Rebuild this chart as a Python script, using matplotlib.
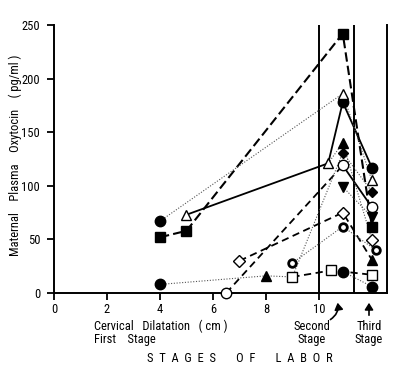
import matplotlib
matplotlib.use("Agg")
import matplotlib.pyplot as plt
from matplotlib import font_manager

names = {f.name for f in font_manager.fontManager.ttflist}
cands = [n for n in ["Liberation Sans Narrow", "DejaVu Sans Condensed", "Roboto Condensed", "Open Sans Condensed"] if n in names]
FAM = cands + ["DejaVu Sans"]
plt.rcParams["font.family"] = FAM
plt.rcParams["font.stretch"] = "condensed"

# ---- data ----
y_ticks = [0, 50, 100, 150, 200, 250]
x_ticks = [0, 2, 4, 6, 8, 10]
stage_lines = [10, 11.32]

line_sq_filled_x = [4, 5, 10.9, 12]
line_sq_filled_y = [52, 58, 242, 62]
line_solid_x = [5, 10.35, 10.9, 12]
line_solid_y = [73, 121, 178, 117]
line_dot_top_x = [4, 10.9, 12]
line_dot_top_y = [67, 186, 105]
line_dot_low_x = [4, 8, 9]
line_dot_low_y = [8, 16, 15]
line_sq_open_x = [9, 10.45, 10.9, 12]
line_sq_open_y = [15, 21, 20, 17]
line_circ_end_x = [10.9, 12]
line_circ_end_y = [20, 6]
line_ocirc_x = [6.5, 10.9]
line_ocirc_y = [0, 119]
line_ocirc2_x = [10.9, 12]
line_ocirc2_y = [119, 80]
line_diam_x = [7, 10.9, 12]
line_diam_y = [30, 75, 31]
line_star_x = [9, 10.9, 12.15]
line_star_y = [28, 62, 40]
line_fdiam_x = [9, 10.9, 12]
line_fdiam_y = [15, 131, 94.5]
line_ftri_x = [10.35, 10.9, 12]
line_ftri_y = [121, 140, 49.5]
line_tdown_x = [10.9, 12]
line_tdown_y = [99, 71]

filled_circle_x = [4, 4, 10.9, 10.9, 12, 12]
filled_circle_y = [67, 8, 178, 20, 117, 6]
filled_square_x = [4, 5, 10.9, 12]
filled_square_y = [52, 58, 242, 62]
open_tri_x = [5, 10.35, 10.9, 12]
open_tri_y = [73, 121, 186, 105]
filled_tri_x = [8, 10.9, 12]
filled_tri_y = [16, 140, 31]
filled_diam_x = [10.9, 12]
filled_diam_y = [131, 94.5]
open_circle_x = [6.5, 10.9, 12]
open_circle_y = [0, 119, 80]
tri_down_x = [10.9, 12]
tri_down_y = [99, 71]
open_diam_x = [7, 10.9, 12]
open_diam_y = [30, 75, 49.5]
star_x = [9, 10.9, 12.15]
star_y = [28, 62, 40]
open_sq_x = [9, 10.45, 12]
open_sq_y = [15, 21, 17]

W, H = 397, 376
fig = plt.figure(figsize=(W / 100, H / 100), dpi=100)
ax = fig.add_axes([54 / W, (H - 293) / H, (387 - 54) / W, (293 - 25) / H])
ax.set_xlim(0, 12.57)
ax.set_ylim(0, 250)

heavy = dict(color="black", lw=1.5, linestyle=(0, (4.5, 2)))
dash = dict(color="black", lw=1.3, linestyle=(0, (4, 2.5)))
solid = dict(color="black", lw=1.3, linestyle="-")
dot = dict(color="#555555", lw=0.8, linestyle=(0, (1, 1.5)))

kw = dict(clip_on=False, zorder=2)
ax.plot(line_sq_filled_x, line_sq_filled_y, **heavy, **kw)
ax.plot(line_solid_x, line_solid_y, **solid, **kw)
ax.plot(line_dot_top_x, line_dot_top_y, **dot, **kw)
ax.plot(line_dot_low_x, line_dot_low_y, **dot, **kw)
ax.plot(line_sq_open_x, line_sq_open_y, **dash, **kw)
ax.plot(line_circ_end_x, line_circ_end_y, **dot, **kw)
ax.plot(line_ocirc_x, line_ocirc_y, **dash, **kw)
ax.plot(line_ocirc2_x, line_ocirc2_y, **solid, **kw)
ax.plot(line_diam_x, line_diam_y, **dash, **kw)
ax.plot(line_star_x, line_star_y, **dot, **kw)
ax.plot(line_fdiam_x, line_fdiam_y, **dot, **kw)
ax.plot(line_ftri_x, line_ftri_y, **dot, **kw)
ax.plot(line_tdown_x, line_tdown_y, **dot, **kw)

mk = dict(linestyle="none", clip_on=False, zorder=4, markeredgecolor="black")
ax.plot(filled_circle_x, filled_circle_y, marker="o", ms=7.5, mfc="black", **mk)
ax.plot(filled_square_x, filled_square_y, marker="s", ms=7, mfc="black", **mk)
ax.plot(open_tri_x, open_tri_y, marker="^", ms=7, mfc="white", mew=1.0, **mk)
ax.plot(filled_tri_x, filled_tri_y, marker="^", ms=7, mfc="black", **mk)
ax.plot(filled_diam_x, filled_diam_y, marker="D", ms=5.5, mfc="black", **mk)
ax.plot(open_circle_x, open_circle_y, marker="o", ms=7.5, mfc="white", mew=1.0, **mk)
ax.plot(tri_down_x, tri_down_y, marker="v", ms=7, mfc="black", **mk)
ax.plot(open_diam_x, open_diam_y, marker="D", ms=6, mfc="white", mew=1.0, **mk)
ax.plot(star_x, star_y, marker="o", ms=5.5, mfc="white", mew=2.0, **mk)
ax.plot(open_sq_x, open_sq_y, marker="s", ms=7, mfc="white", mew=1.0, **mk)

for xv in stage_lines:
    ax.axvline(xv, color="black", lw=1.4, zorder=1)

ax.spines["top"].set_visible(False)
for s in ["left", "bottom", "right"]:
    ax.spines[s].set_linewidth(1.4)

ax.set_yticks(y_ticks)
ax.set_xticks(x_ticks)
ax.tick_params(axis="both", direction="out", length=5, width=1.3, labelsize=9)
ax.tick_params(axis="y", pad=5)
ax.tick_params(axis="x", pad=2)

fs = 9
fig.text(15 / W, 1 - 155 / H, "Maternal    Plasma    Oxytocin    ( pg/ml )",
         rotation=90, ha="center", va="center", fontsize=fs)

def px(x, y):
    return (x / W, 1 - y / H)

fig.text(*px(94, 326), "Cervical   Dilatation   ( cm )", ha="left", va="center", fontsize=fs)
fig.text(*px(94, 339), "First    Stage", ha="left", va="center", fontsize=fs)
fig.text(*px(240, 358), "S  T  A  G  E  S       O  F       L  A  B  O  R", ha="center", va="center", fontsize=fs)
fig.text(*px(312, 326), "Second", ha="center", va="center", fontsize=fs)
fig.text(*px(312, 339), "Stage", ha="center", va="center", fontsize=fs)
fig.text(*px(369, 326), "Third", ha="center", va="center", fontsize=fs)
fig.text(*px(369, 339), "Stage", ha="center", va="center", fontsize=fs)

fig.add_artist(matplotlib.patches.FancyArrowPatch(
    px(328, 321), px(337, 300), transform=fig.transFigure,
    connectionstyle="arc3,rad=0.4", arrowstyle="-|>,head_length=4,head_width=2.5",
    color="black", lw=1.2))
fig.add_artist(matplotlib.patches.FancyArrowPatch(
    px(369, 318), px(369, 300), transform=fig.transFigure,
    arrowstyle="-|>,head_length=4,head_width=2.5", color="black", lw=1.2))

fig.savefig("out.png", dpi=100)
